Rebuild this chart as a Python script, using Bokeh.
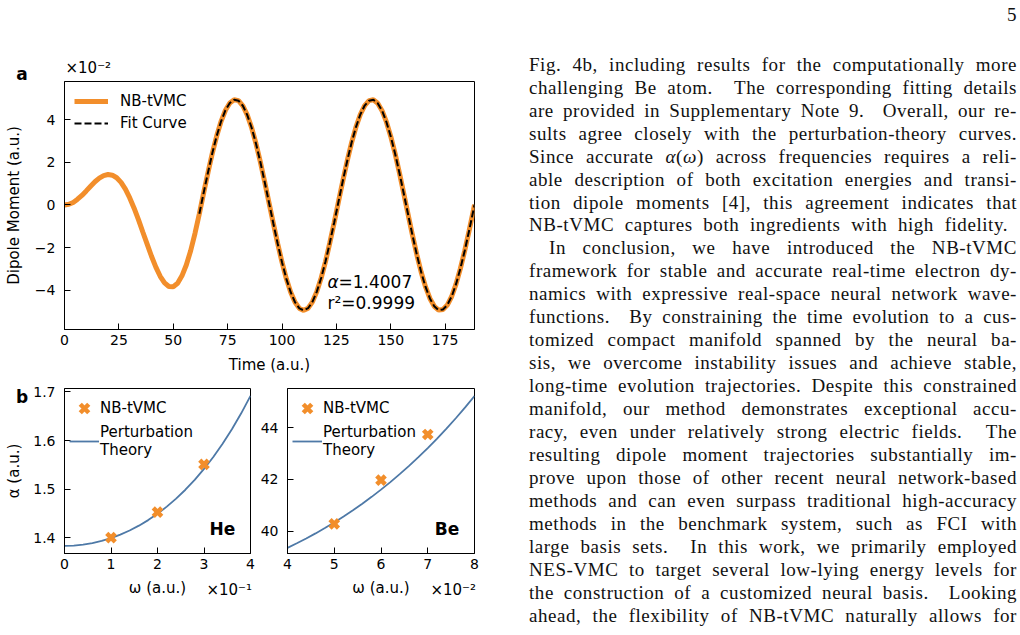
from bokeh.plotting import figure
from bokeh.models import Label, Legend, LegendItem, FixedTicker, CustomJSTickFormatter, Div, Title
from bokeh.layouts import row, column
from bokeh.embed import file_html
from bokeh.resources import INLINE

# ---------------- data ----------------
# (a) He dipole moment under a driving field (units of 1e-2 a.u.)
time_au = [0, 2, 4, 6, 8, 10, 12, 14, 16, 18, 20, 22, 24, 26, 28, 30, 32, 34, 36, 38,
           40, 42, 44, 46, 48, 50, 52, 54, 56, 58, 60, 62, 64, 66, 68, 70, 72, 74, 76, 78,
           80, 82, 84, 86, 88, 90, 92, 94, 96, 98, 100, 102, 104, 106, 108, 110, 112, 114, 116, 118,
           120, 122, 124, 126, 128, 130, 132, 134, 136, 138, 140, 142, 144, 146, 148, 150, 152, 154, 156, 158,
           160, 162, 164, 166, 168, 170, 172, 174, 176, 178, 180, 182, 184, 186, 188, 188.5]
dipole_e2 = [0.00, 0.03, 0.12, 0.27, 0.45, 0.66, 0.88, 1.09, 1.26, 1.38, 1.43, 1.40, 1.28, 1.06, 0.74, 0.33,
             -0.15, -0.69, -1.27, -1.84, -2.41, -2.92, -3.35, -3.66, -3.83, -3.84, -3.68, -3.33, -2.82, -2.15, -1.33, -0.41,
             0.58, 1.54, 2.45, 3.25, 3.93, 4.45, 4.79, 4.94, 4.90, 4.66, 4.23, 3.64, 2.90, 2.04, 1.10, 0.12,
             -0.86, -1.81, -2.69, -3.47, -4.10, -4.57, -4.86, -4.95, -4.85, -4.55, -4.07, -3.43, -2.66, -1.77, -0.82,
             0.17, 1.15, 2.08, 2.93, 3.66, 4.25, 4.67, 4.90, 4.94, 4.78, 4.43, 3.90, 3.22, 2.41, 1.50, 0.53,
             -0.46, -1.43, -2.34, -3.16, -3.85, -4.39, -4.76, -4.94, -4.91, -4.70, -4.30, -3.72, -2.99, -2.15, -1.22, -0.25,
             0.01]
fit_time_au = [62, 64, 66, 68, 70, 72, 74, 76, 78, 80, 82, 84, 86, 88, 90, 92, 94, 96, 98, 100,
               102, 104, 106, 108, 110, 112, 114, 116, 118, 120, 122, 124, 126, 128, 130, 132, 134, 136, 138, 140,
               142, 144, 146, 148, 150, 152, 154, 156, 158, 160, 162, 164, 166, 168, 170, 172, 174, 176, 178, 180,
               182, 184, 186, 188, 188.5]
fit_dipole_e2 = [-0.41, 0.58, 1.54, 2.45, 3.25, 3.93, 4.45, 4.79, 4.94, 4.90, 4.66, 4.23, 3.64, 2.90, 2.04, 1.10, 0.12,
                 -0.86, -1.81, -2.69, -3.47, -4.10, -4.57, -4.86, -4.95, -4.85, -4.55, -4.07, -3.43, -2.66, -1.77, -0.82,
                 0.17, 1.15, 2.08, 2.93, 3.66, 4.25, 4.67, 4.90, 4.94, 4.78, 4.43, 3.90, 3.22, 2.41, 1.50, 0.53,
                 -0.46, -1.43, -2.34, -3.16, -3.85, -4.39, -4.76, -4.94, -4.91, -4.70, -4.30, -3.72, -2.99, -2.15, -1.22, -0.25,
                 0.01]
fit_alpha = "1.4007"
fit_r2 = "0.9999"
time_ticks = [0, 25, 50, 75, 100, 125, 150, 175]
dipole_ticks = [-4, -2, 0, 2, 4]

# (b) dynamic polarizability: He (omega in 1e-1 a.u.), Be (omega in 1e-2 a.u.)
omega_he_e1 = [1, 2, 3]
alpha_he = [1.4007, 1.453, 1.551]
pt_omega_he_e1 = [0.0, 0.2, 0.4, 0.6, 0.8, 1.0, 1.2, 1.4, 1.6, 1.8, 2.0,
                  2.2, 2.4, 2.6, 2.8, 3.0, 3.2, 3.4, 3.6, 3.8, 4.0]
pt_alpha_he = [1.3836, 1.3842, 1.3861, 1.3893, 1.3938, 1.3995, 1.4067, 1.4152, 1.4252, 1.4366, 1.4497,
               1.4643, 1.4808, 1.4990, 1.5193, 1.5417, 1.5663, 1.5934, 1.6233, 1.6560, 1.6920]
he_xticks = [0, 1, 2, 3, 4]
he_yticks = [1.4, 1.5, 1.6, 1.7]

omega_be_e2 = [5, 6, 7]
alpha_be = [40.28, 41.97, 43.74]
pt_omega_be_e2 = [4.0, 4.2, 4.4, 4.6, 4.8, 5.0, 5.2, 5.4, 5.6, 5.8, 6.0,
                  6.2, 6.4, 6.6, 6.8, 7.0, 7.2, 7.4, 7.6, 7.8, 8.0]
pt_alpha_be = [39.350, 39.526, 39.711, 39.908, 40.115, 40.333, 40.563, 40.804, 41.058, 41.324, 41.603,
               41.896, 42.202, 42.523, 42.860, 43.211, 43.580, 43.964, 44.367, 44.788, 45.229]
be_xticks = [4, 5, 6, 7, 8]
be_yticks = [40, 42, 44]

# body text of the page column
text_lines = [
    "Fig. 4b, including results for the computationally more",
    "challenging Be atom.&nbsp; The corresponding fitting details",
    "are provided in Supplementary Note 9.&nbsp; Overall, our re-",
    "sults agree closely with the perturbation-theory curves.",
    "Since accurate <i>&alpha;</i>(<i>&omega;</i>) across frequencies requires a reli-",
    "able description of both excitation energies and transi-",
    "tion dipole moments [4], this agreement indicates that",
    "NB-tVMC captures both ingredients with high fidelity.",
    "In conclusion, we have introduced the NB-tVMC",
    "framework for stable and accurate real-time electron dy-",
    "namics with expressive real-space neural network wave-",
    "functions.&nbsp; By constraining the time evolution to a cus-",
    "tomized compact manifold spanned by the neural ba-",
    "sis, we overcome instability issues and achieve stable,",
    "long-time evolution trajectories. Despite this constrained",
    "manifold, our method demonstrates exceptional accu-",
    "racy, even under relatively strong electric fields.&nbsp; The",
    "resulting dipole moment trajectories substantially im-",
    "prove upon those of other recent neural network-based",
    "methods and can even surpass traditional high-accuracy",
    "methods in the benchmark system, such as FCI with",
    "large basis sets.&nbsp; In this work, we primarily employed",
    "NES-VMC to target several low-lying energy levels for",
    "the construction of a customized neural basis.&nbsp; Looking",
    "ahead, the flexibility of NB-tVMC naturally allows for",
]
page_number = "5"

# ---------------- style ----------------
FONT = "DejaVu Sans"
ORANGE = "#F28E2B"
BLUE = "#4E79A7"
TEXT_X0 = 490  # page x where the text column starts


def style_axes(p, xticks, yticks, xlabel, ylabel, xstand, ystand):
    p.grid.visible = False
    p.outline_line_color = "black"
    p.outline_line_width = 1
    p.outline_line_alpha = 1
    p.background_fill_color = "white"
    p.border_fill_color = "white"
    for ax in (p.xaxis[0], p.yaxis[0]):
        ax.major_tick_in = 6
        ax.major_tick_out = 0
        ax.minor_tick_line_color = None
        ax.axis_line_color = "black"
        ax.major_tick_line_color = "black"
        ax.major_label_text_font = FONT
        ax.major_label_text_font_size = "14px"
        ax.major_label_text_color = "black"
        ax.axis_label_text_font = FONT
        ax.axis_label_text_font_size = "15px"
        ax.axis_label_text_font_style = "normal"
        ax.axis_label_text_color = "black"
    p.xaxis.ticker = FixedTicker(ticks=xticks)
    p.yaxis.ticker = FixedTicker(ticks=yticks)
    p.xaxis.axis_label = xlabel
    p.yaxis.axis_label = ylabel
    p.xaxis.major_label_standoff = 5
    p.yaxis.major_label_standoff = 9
    p.xaxis.axis_label_standoff = xstand
    p.yaxis.axis_label_standoff = ystand


def note(p, frame_left, frame_bottom, x, y, text, size, style="normal",
         align="left", baseline="middle"):
    # x, y in canvas pixels (top-left origin); converted to frame-relative screen units
    p.add_layout(Label(x=x - frame_left, y=frame_bottom - y, x_units="screen", y_units="screen",
                       text=text, text_font=FONT, text_font_size=size, text_font_style=style,
                       text_align=align, text_baseline=baseline, text_color="black"))


# ---------------- panel a ----------------
pa = figure(width=490, height=380, x_range=(0, 188.5), y_range=(-5.85, 5.8),
            output_backend="svg", toolbar_location=None,
            min_border_left=64, min_border_right=16, min_border_top=81, min_border_bottom=51)
style_axes(pa, time_ticks, dipole_ticks, "Time (a.u.)", "Dipole Moment (a.u.)", 8, 9)
pa.yaxis.formatter = CustomJSTickFormatter(
    code="return (tick < 0 ? '\u2212' : '') + Math.abs(tick).toString();")

r_data = pa.line(time_au, dipole_e2, line_color=ORANGE, line_width=5)
r_fit = pa.line(fit_time_au, fit_dipole_e2, line_color="black", line_width=2, line_dash="7 3")

pa.add_layout(Legend(items=[LegendItem(label="NB-tVMC", renderers=[r_data]),
                            LegendItem(label="Fit Curve", renderers=[r_fit])],
                     location="top_left", margin=10, padding=0, spacing=2,
                     glyph_width=34, glyph_height=20, label_height=20, label_standoff=12,
                     border_line_color=None, background_fill_alpha=0,
                     label_text_font=FONT, label_text_font_size="15px", label_text_color="black"))

# exponent of the y-axis values, above the frame
pa.add_layout(Title(text="×10⁻²", align="left", offset=1, standoff=10,
                    text_font=FONT, text_font_size="15px", text_font_style="normal",
                    text_color="black"), "above")

note(pa, 64, 329, 327, 281, "α", "17px", style="italic")
note(pa, 64, 329, 338, 281, "=" + fit_alpha, "17px")
note(pa, 64, 329, 327, 302, "r²=" + fit_r2, "17px")

# ---------------- panel b: He ----------------
phe = figure(width=255, height=255, x_range=(0, 4), y_range=(1.368, 1.707),
             output_backend="svg", toolbar_location=None,
             min_border_left=64, min_border_right=5, min_border_top=8, min_border_bottom=82)
style_axes(phe, he_xticks, he_yticks, "ω (a.u.)", "α (a.u.)", 7, 7)
r_pt_he = phe.line(pt_omega_he_e1, pt_alpha_he, line_color=BLUE, line_width=1.8)
r_nb_he = phe.scatter(omega_he_e1, alpha_he, marker="x", size=12, line_color=ORANGE, line_width=4.5)

# ---------------- panel b: Be ----------------
pbe = figure(width=235, height=255, x_range=(4, 8), y_range=(39.13, 45.52),
             output_backend="svg", toolbar_location=None,
             min_border_left=32, min_border_right=16, min_border_top=8, min_border_bottom=82)
style_axes(pbe, be_xticks, be_yticks, "ω (a.u.)", "", 7, 7)
r_pt_be = pbe.line(pt_omega_be_e2, pt_alpha_be, line_color=BLUE, line_width=1.8)
r_nb_be = pbe.scatter(omega_be_e2, alpha_be, marker="x", size=12, line_color=ORANGE, line_width=4.5)

for p, r_nb, r_pt in ((phe, r_nb_he, r_pt_he), (pbe, r_nb_be, r_pt_be)):
    p.add_layout(Legend(items=[LegendItem(label="NB-tVMC", renderers=[r_nb]),
                               LegendItem(label="Perturbation\nTheory", renderers=[r_pt])],
                        location="top_left", margin=5, padding=0, spacing=0,
                        glyph_width=30, glyph_height=30, label_height=20, label_standoff=1,
                        border_line_color=None, background_fill_alpha=0,
                        label_text_font=FONT, label_text_font_size="15px", label_text_color="black"))

note(phe, 64, 173, 222, 148, "He", "17px", style="bold", align="center")
note(pbe, 32, 173, 191.5, 148, "Be", "17px", style="bold", align="center")

# ---------------- text column (with panel letters and axis exponents) ----------------
side_notes = [
    # text, page x, box top, align, size, weight
    ("a", 17, 58.5, "center", 17, "bold"),
    ("b", 17, 381.5, "center", 17, "bold"),
    ("×10⁻¹", 247, 576, "right", 15, "normal"),
    ("×10⁻²", 471, 576, "right", 15, "normal"),
]
notes_html = []
for txt, px, top, align, size, weight in side_notes:
    box_w = 80
    left = px - TEXT_X0 - (box_w / 2 if align == "center" else box_w)
    notes_html.append(
        '<div style="position:absolute;left:%.1fpx;top:%.1fpx;width:%dpx;text-align:%s;'
        'font-family:\'DejaVu Sans\';font-size:%dpx;font-weight:%s;line-height:normal;'
        'letter-spacing:0;word-spacing:0;color:black;">%s</div>' % (left, top, box_w, align, size, weight, txt))

rows_html = ['<div style="position:absolute;left:512px;top:-2px;line-height:23px;">%s</div>'
             % page_number]
for i, line in enumerate(text_lines):
    top = 47.8 + 22.95 * i
    indent = 20 if i == 8 else 0
    width = 479 if i == 7 else 488 - indent
    rows_html.append(
        '<div style="position:absolute;left:%dpx;top:%.1fpx;width:%dpx;height:23px;'
        'line-height:23px;white-space:normal;text-align:justify;text-align-last:justify;">%s</div>'
        % (34 + indent, top, width, line))
html = ('<div style="position:relative;width:530px;height:635px;overflow:visible;">'
        '<div style="position:absolute;left:0;top:0;width:530px;height:635px;overflow:hidden;'
        'font-family:\'Liberation Serif\',serif;font-size:19px;letter-spacing:0.55px;'
        'word-spacing:-3px;color:#111;">'
        + "".join(rows_html) + "</div>" + "".join(notes_html) + "</div>")
body = Div(text=html, width=530, height=635, styles={"overflow": "visible"})

layout = row(column(pa, row(phe, pbe)), body)
open("out.html", "w").write(file_html(layout, INLINE))
